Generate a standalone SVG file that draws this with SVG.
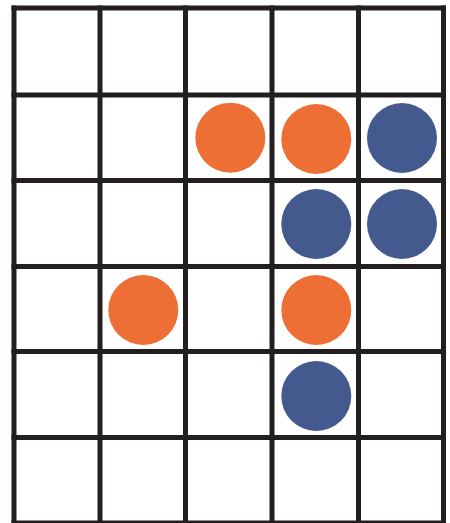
<svg xmlns="http://www.w3.org/2000/svg" width="450" height="523" viewBox="0 0 450 523">
<style>
.g{stroke:#231f20;stroke-width:5;fill:none;stroke-linecap:square}
.o{fill:#ee6f36}
.b{fill:#445a8e}
</style>
<rect width="450" height="523" fill="#fff"/>
<g id="grid" class="g">
<line x1="14" y1="8" x2="14" y2="525"/>
<line x1="100" y1="8" x2="100" y2="525"/>
<line x1="185.5" y1="8" x2="185.5" y2="525"/>
<line x1="272" y1="8" x2="272" y2="525"/>
<line x1="358.5" y1="8" x2="358.5" y2="525"/>
<line x1="443.5" y1="8" x2="443.5" y2="525"/>
<line x1="14" y1="8" x2="443.5" y2="8"/>
<line x1="14" y1="95" x2="443.5" y2="95"/>
<line x1="14" y1="180.5" x2="443.5" y2="180.5"/>
<line x1="14" y1="266.5" x2="443.5" y2="266.5"/>
<line x1="14" y1="351.5" x2="443.5" y2="351.5"/>
<line x1="14" y1="437.5" x2="443.5" y2="437.5"/>
<line x1="14" y1="523" x2="443.5" y2="523"/>
</g>
<g id="c1"><circle class="o" cx="230.3" cy="137.7" r="35"/></g>
<g id="c2"><circle class="o" cx="316.3" cy="139" r="35"/></g>
<g id="c3"><circle class="b" cx="402" cy="138" r="35"/></g>
<g id="c4"><circle class="b" cx="316.3" cy="224" r="35"/></g>
<g id="c5"><circle class="b" cx="402" cy="224" r="35"/></g>
<g id="c6"><circle class="o" cx="143.3" cy="310" r="35"/></g>
<g id="c7"><circle class="o" cx="316.3" cy="310" r="35"/></g>
<g id="c8"><circle class="b" cx="316.3" cy="396" r="35"/></g>
</svg>
